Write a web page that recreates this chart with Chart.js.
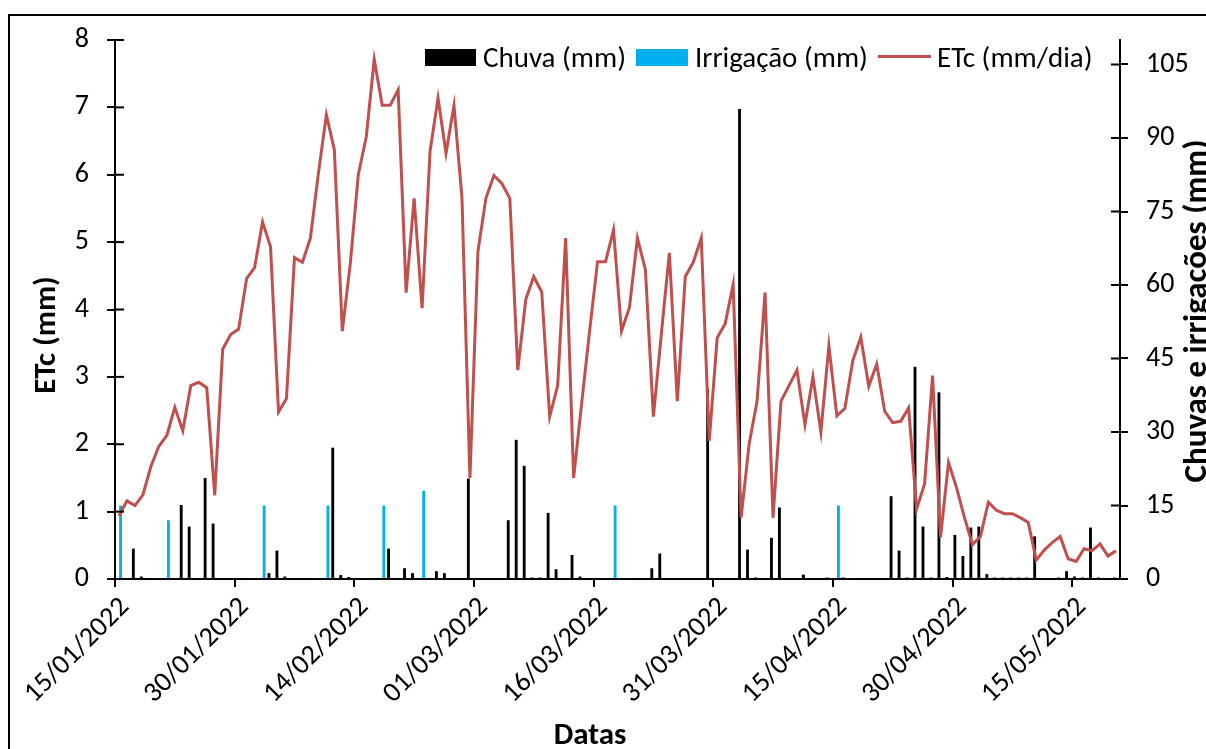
<!DOCTYPE html>
<html lang="pt">
<head>
    <meta charset="UTF-8">
    <title>ETc, chuva e irrigação</title>
    <script src="https://cdn.jsdelivr.net/npm/chart.js"></script>
    <style>
        body { margin: 0; background: #fff; }
        #wrap { position: relative; width: 1206px; height: 749px; overflow: hidden; }
        #frame { position: absolute; left: 8px; top: 14px; width: 1300px; height: 800px; border: 2px solid #000; }
        canvas { position: absolute; left: 0; top: 0; }
        .leg { position: absolute; font-family: Carlito, Lato, sans-serif; font-size: 29px; color: #000; line-height: 30px; top: 42px; white-space: nowrap; }
        .sw { position: absolute; }
    </style>
</head>
<body>
<div id="wrap">
    <div id="frame"></div>
    <canvas id="grafico" width="1206" height="749"></canvas>
    <div class="sw" style="left:425px;top:49px;width:51px;height:17px;background:#000"></div>
    <div class="leg" style="left:483px">Chuva (mm)</div>
    <div class="sw" style="left:636px;top:49px;width:52px;height:17px;background:#00B0F0"></div>
    <div class="leg" style="left:695px">Irrigação (mm)</div>
    <div class="sw" style="left:878px;top:55px;width:53px;height:3px;background:#C0504D"></div>
    <div class="leg" style="left:937px">ETc (mm/dia)</div>
</div>

<script>
    // dias desde 15/01/2022 (0 .. 125)
    const rotulosDatas = ['15/01/2022', '30/01/2022', '14/02/2022', '01/03/2022', '16/03/2022',
                          '31/03/2022', '15/04/2022', '30/04/2022', '15/05/2022'];

    // ETc (mm/dia), um valor por dia
    const etc = [
        0.94, 1.16, 1.09, 1.25, 1.67, 1.97, 2.13, 2.55, 2.20, 2.87,
        2.92, 2.84, 1.24, 3.41, 3.63, 3.71, 4.46, 4.62, 5.30, 4.93,
        2.48, 2.68, 4.77, 4.70, 5.06, 6.02, 6.89, 6.37, 3.68, 4.68,
        6.00, 6.56, 7.71, 7.03, 7.03, 7.26, 4.25, 5.65, 4.02, 6.35,
        7.14, 6.32, 7.03, 5.66, 1.50, 4.86, 5.65, 5.99, 5.87, 5.65,
        3.10, 4.15, 4.49, 4.26, 2.41, 2.87, 5.06, 1.50, 2.60, 3.68,
        4.71, 4.71, 5.18, 3.68, 4.03, 5.06, 4.59, 2.41, 3.64, 4.84,
        2.64, 4.49, 4.70, 5.06, 2.05, 3.58, 3.79, 4.37, 0.91, 2.00,
        2.64, 4.25, 0.91, 2.64, 2.87, 3.10, 2.29, 3.00, 2.18, 3.46,
        2.42, 2.53, 3.24, 3.59, 2.86, 3.19, 2.49, 2.32, 2.34, 2.54,
        1.04, 1.41, 3.02, 0.62, 1.73, 1.36, 0.91, 0.51, 0.63, 1.14,
        1.02, 0.97, 0.97, 0.91, 0.84, 0.28, 0.43, 0.54, 0.63, 0.30,
        0.26, 0.45, 0.42, 0.52, 0.34, 0.42
    ];

    // Chuva (mm)
    const chuva = [
        0, 0, 6.2, 0.5, 0, 0, 0, 0, 15.1, 10.7,
        0, 20.6, 11.3, 0, 0, 0, 0, 0, 0, 1.2,
        5.8, 0.5, 0, 0, 0, 0, 0, 26.8, 0.8, 0.4,
        0, 0, 0, 0, 6.2, 0, 2.2, 1.2, 0, 0,
        1.6, 1.2, 0, 0, 20.5, 0, 0, 0, 0, 12.0,
        28.4, 23.1, 0.3, 0.3, 13.5, 2.0, 0, 4.9, 0.5, 0,
        0, 0, 0, 0, 0, 0, 0, 2.2, 5.2, 0,
        0, 0, 0, 0, 38.8, 0, 0, 0, 95.9, 6.0,
        0.3, 0, 8.4, 14.6, 0, 0, 0.9, 0, 0, 0.3,
        0, 0.3, 0, 0, 0, 0, 0, 16.9, 5.8, 0.3,
        43.3, 10.7, 0.3, 38.1, 0.4, 9.0, 4.7, 10.5, 10.7, 1.0,
        0.3, 0.3, 0.3, 0.3, 0.3, 8.7, 0.2, 0, 0.3, 1.6,
        0.5, 0.3, 10.5, 0.3, 0, 0.3
    ];

    // Irrigação (mm)
    const irrigacao = [
        15, 0, 0, 0, 0, 0, 12, 0, 0, 0,
        0, 0, 0, 0, 0, 0, 0, 0, 15, 0,
        0, 0, 0, 0, 0, 0, 15, 0, 0, 0,
        0, 0, 0, 15, 0, 0, 0, 0, 18, 0,
        0, 0, 0, 0, 0, 0, 0, 0, 0, 0,
        0, 0, 0, 0, 0, 0, 0, 0, 0, 0,
        0, 0, 15, 0, 0, 0, 0, 0, 0, 0,
        0, 0, 0, 0, 0, 0, 0, 0, 0, 0,
        0, 0, 0, 0, 0, 0, 0, 0, 0, 0,
        15, 0, 0, 0, 0, 0, 0, 0, 0, 0,
        0, 0, 0, 0, 0, 0, 0, 0, 0, 0,
        0, 0, 0, 0, 0, 0, 0, 0, 0, 0,
        0, 0, 0, 0, 0, 0
    ];

    const fonte = 'Carlito, Lato, sans-serif';
    const pontos = arr => arr.map((v, i) => ({ x: i + 0.5, y: v }));

    function titulo(c, texto, x, y, tam) {
        c.save();
        c.fillStyle = '#000';
        c.font = 'bold ' + tam + 'px ' + fonte;
        c.textAlign = 'center';
        c.textBaseline = 'middle';
        c.translate(x, y);
        c.rotate(-Math.PI / 2);
        c.fillText(texto, 0, 0);
        c.restore();
    }

    // marcas de escala que cruzam o eixo (parte interna) + títulos dos eixos
    const extras = {
        id: 'extras',
        afterDraw(chart) {
            const c = chart.ctx, a = chart.chartArea;
            c.save();
            c.strokeStyle = '#000';
            c.lineWidth = 2;
            chart.scales.y.ticks.forEach(t => {
                const p = chart.scales.y.getPixelForValue(t.value);
                c.beginPath(); c.moveTo(a.left, p); c.lineTo(a.left + 9, p); c.stroke();
            });
            chart.scales.y1.ticks.forEach(t => {
                const p = chart.scales.y1.getPixelForValue(t.value);
                c.beginPath(); c.moveTo(a.right - 9, p); c.lineTo(a.right, p); c.stroke();
            });
            c.fillStyle = '#000';
            c.font = 'bold 31px ' + fonte;
            c.textAlign = 'center';
            c.textBaseline = 'middle';
            c.fillText('Datas', 590, 736);
            c.restore();
            titulo(c, 'ETc (mm)', 47, 335, 31);
            titulo(c, 'Chuvas e irrigações (mm)', 1198, 311, 33);
        }
    };

    new Chart(document.getElementById('grafico'), {
        type: 'bar',
        data: {
            datasets: [
                {
                    type: 'line',
                    label: 'ETc (mm/dia)',
                    data: pontos(etc),
                    borderColor: '#C0504D',
                    borderWidth: 3,
                    pointRadius: 0,
                    tension: 0,
                    yAxisID: 'y',
                    order: 0
                },
                {
                    label: 'Chuva (mm)',
                    data: pontos(chuva),
                    backgroundColor: '#000000',
                    yAxisID: 'y1',
                    categoryPercentage: 0.8,
                    barPercentage: 0.9,
                    order: 1
                },
                {
                    label: 'Irrigação (mm)',
                    data: pontos(irrigacao),
                    backgroundColor: '#00B0F0',
                    yAxisID: 'y1',
                    categoryPercentage: 0.8,
                    barPercentage: 0.9,
                    order: 1
                }
            ]
        },
        options: {
            responsive: false,
            animation: false,
            layout: { padding: { top: 40, left: 0, right: 0, bottom: 0 } },
            plugins: {
                legend: { display: false },
                tooltip: { enabled: false }
            },
            scales: {
                x: {
                    type: 'linear',
                    offset: false,
                    min: 0,
                    max: 126,
                    afterFit: s => { s.height = 170; },
                    ticks: {
                        stepSize: 15,
                        includeBounds: false,
                        minRotation: 45,
                        maxRotation: 45,
                        autoSkip: false,
                        labelOffset: 10,
                        padding: 4,
                        color: '#000',
                        font: { family: fonte, size: 28 },
                        callback: v => rotulosDatas[v / 15]
                    },
                    grid: { offset: false, drawOnChartArea: false, drawTicks: true, tickLength: 8, color: '#000', lineWidth: 2 },
                    border: { color: '#000', width: 2 }
                },
                y: {
                    position: 'left',
                    min: 0,
                    max: 8,
                    afterFit: s => { s.width = 115; },
                    ticks: { stepSize: 1, padding: 18, color: '#000', font: { family: fonte, size: 28 } },
                    grid: { drawOnChartArea: false, drawTicks: true, tickLength: 8, color: '#000', lineWidth: 2 },
                    border: { color: '#000', width: 2 }
                },
                y1: {
                    position: 'right',
                    min: 0,
                    max: 110,
                    afterFit: s => { s.width = 86; },
                    ticks: { stepSize: 15, includeBounds: false, padding: 18, color: '#000', font: { family: fonte, size: 28 } },
                    grid: { drawOnChartArea: false, drawTicks: true, tickLength: 8, color: '#000', lineWidth: 2 },
                    border: { color: '#000', width: 2 }
                }
            }
        },
        plugins: [extras]
    });
</script>
</body>
</html>
